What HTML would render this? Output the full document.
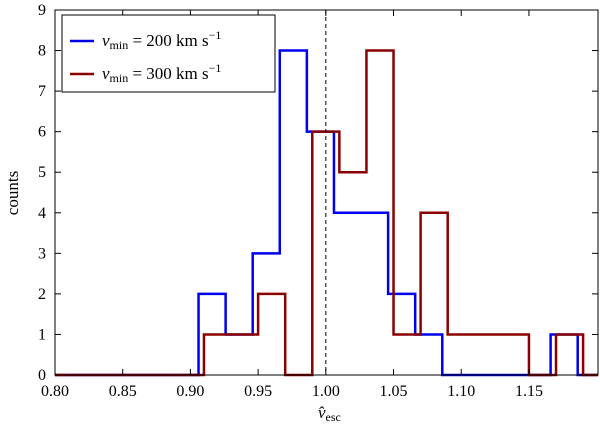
<!DOCTYPE html>
<html><head><meta charset="utf-8"><style>
body{margin:0;background:#fff}
svg text{font-family:"Liberation Serif",serif}
</style></head><body>
<svg width="600" height="431" xmlns="http://www.w3.org/2000/svg">
<g id="root"></g>
</svg>
<script>
const xTicks=[0.80,0.85,0.90,0.95,1.00,1.05,1.10,1.15];
const yTicks=[0,1,2,3,4,5,6,7,8,9];
const blueStart=0.806, redStart=0.81, binW=0.02;
const blueCounts=[0,0,0,0,0,2,1,3,8,6,4,4,2,1,0,0,0,0,1,0];
const redCounts=[0,0,0,0,0,1,1,2,0,6,5,8,1,4,1,1,1,0,1,0];
const L=55,R=598,T=10,B=375,xmin=0.8,xmax=1.201,ymax=9;
const X=v=>L+(v-xmin)/(xmax-xmin)*(R-L);
const Y=c=>B-c/ymax*(B-T);
const ns="http://www.w3.org/2000/svg",root=document.getElementById('root');
function mk(t,a,p){const e=document.createElementNS(ns,t);for(const k in a)e.setAttribute(k,a[k]);(p||root).appendChild(e);return e;}
function hist(start,counts,color,name){
  let d=`M${X(xmin)},${Y(0)}`;
  counts.forEach((c,i)=>{const x0=Math.max(X(start+i*binW),L),x1=Math.min(X(start+(i+1)*binW),R);d+=`L${x0},${Y(c)}L${x1},${Y(c)}`;});
  const p=mk('path',{d:d,fill:'none',stroke:color,'stroke-width':2.5});
  
  
}
hist(blueStart,blueCounts,'#0000ee','blue-histogram');
hist(redStart,redCounts,'#8b0000','red-histogram');
const dl=mk('line',{x1:X(1),x2:X(1),y1:T,y2:B,stroke:'#000','stroke-width':1,'stroke-dasharray':'4,3'});


const fr=mk('rect',{x:L,y:T,width:R-L,height:B-T,fill:'none',stroke:'#000','stroke-width':1});


xTicks.forEach(v=>{
  mk('line',{x1:X(v),x2:X(v),y1:B,y2:B-6,stroke:'#000'});
  mk('line',{x1:X(v),x2:X(v),y1:T,y2:T+6,stroke:'#000'});
  const t=mk('text',{x:X(v),y:B+21,'text-anchor':'middle','font-size':16});t.textContent=v.toFixed(2);
  
  
});
yTicks.forEach(v=>{
  mk('line',{x1:L,x2:L+6,y1:Y(v),y2:Y(v),stroke:'#000'});
  mk('line',{x1:R,x2:R-6,y1:Y(v),y2:Y(v),stroke:'#000'});
  const t=mk('text',{x:L-9,y:Y(v)+5,'text-anchor':'end','font-size':16});t.textContent=v;
  
  
});
</script>
<svg width="600" height="431" style="position:absolute;left:0;top:0" xmlns="http://www.w3.org/2000/svg">
<text x="18" y="193" font-size="17" text-anchor="middle" transform="rotate(-90 18 193)" font-family="Liberation Serif, serif">counts</text>
<text x="318" y="418" font-size="17" font-style="italic" font-family="Liberation Serif, serif">v̂<tspan font-size="12" dy="3" font-style="normal">esc</tspan></text>
<g font-family="Liberation Serif, serif" font-size="17">
<rect x="62" y="15" width="213" height="77" fill="#fff" stroke="#000"/>
<line x1="70" x2="94" y1="41" y2="41" stroke="#0000ee" stroke-width="2.5"/>
<text x="102" y="46"><tspan font-style="italic">v</tspan><tspan font-size="12" dy="3">min</tspan><tspan dy="-3"> = 200 km s</tspan><tspan font-size="12" dy="-7">−1</tspan></text>
<line x1="70" x2="94" y1="74" y2="74" stroke="#8b0000" stroke-width="2.5"/>
<text x="102" y="79"><tspan font-style="italic">v</tspan><tspan font-size="12" dy="3">min</tspan><tspan dy="-3"> = 300 km s</tspan><tspan font-size="12" dy="-7">−1</tspan></text>
</g>
</svg>
</body></html>
